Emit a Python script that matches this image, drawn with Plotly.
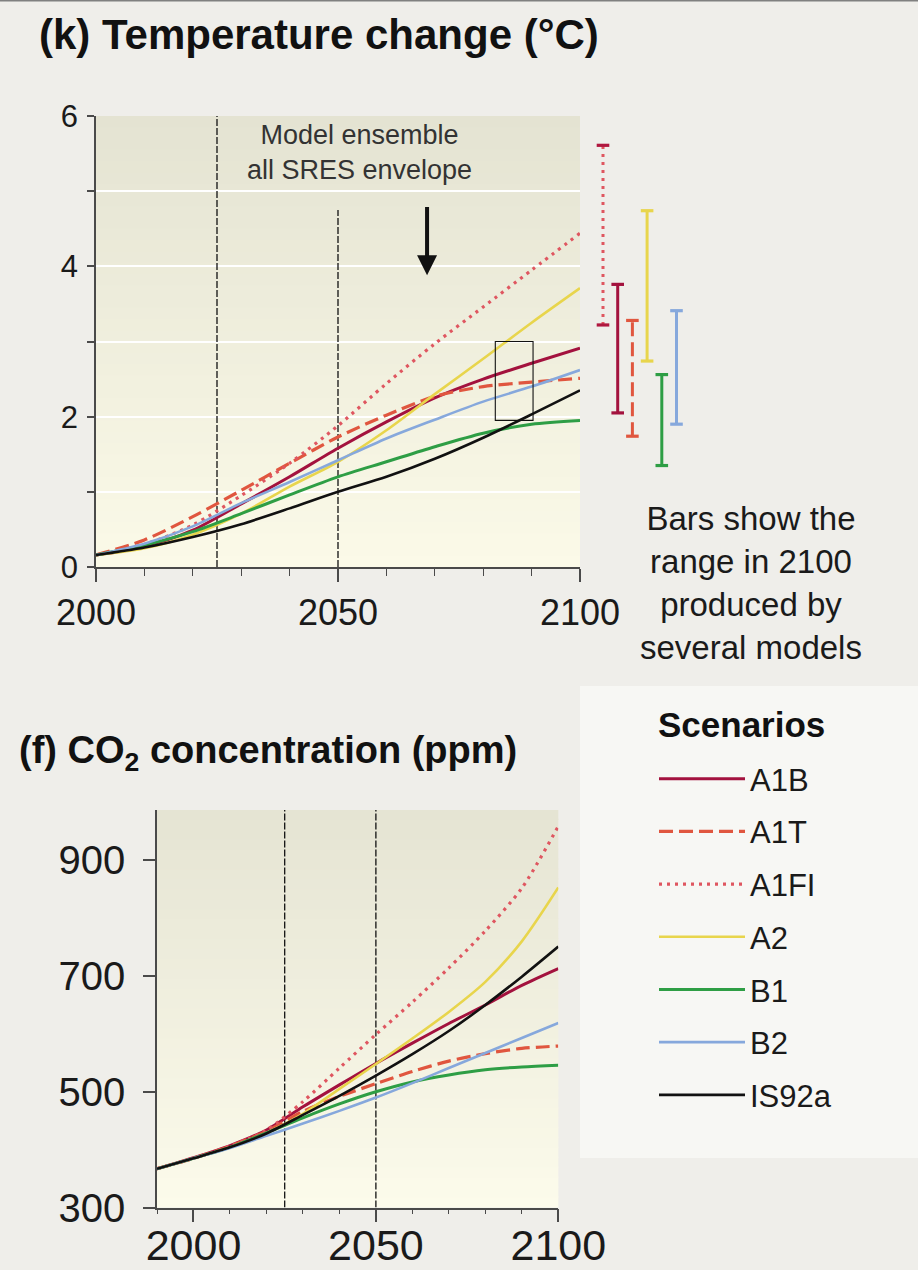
import plotly.graph_objects as go

FONT = "Liberation Sans, Arial, Helvetica, sans-serif"

# ---------------- data ----------------
SCEN = ["A1B", "A1T", "A1FI", "A2", "B1", "B2", "IS92a"]
COLORS = {"A1B": "#a3123e", "A1T": "#e0563f", "A1FI": "#df5660", "A2": "#e8d54c",
          "B1": "#2e9e45", "B2": "#86a8dc", "IS92a": "#111111"}
DASHES = {"A1B": "solid", "A1T": "14px,6px", "A1FI": "3px,5px", "A2": "solid",
          "B1": "solid", "B2": "solid", "IS92a": "solid"}
WIDTHS = {"A1B": 3, "A1T": 3.2, "A1FI": 3.2, "A2": 2.6, "B1": 3, "B2": 2.6, "IS92a": 2.6}

# (k) Temperature change (deg C)
T_YEARS = [2000, 2010, 2020, 2030, 2040, 2050, 2060, 2070, 2080, 2090, 2100]
T_A1B   = [0.16, 0.27, 0.49, 0.84, 1.20, 1.58, 1.93, 2.25, 2.50, 2.71, 2.91]
T_A1T   = [0.16, 0.36, 0.67, 1.02, 1.38, 1.73, 2.02, 2.27, 2.40, 2.46, 2.51]
T_A1FI  = [0.16, 0.30, 0.56, 0.95, 1.38, 1.88, 2.44, 2.97, 3.46, 3.95, 4.44]
T_A2    = [0.16, 0.25, 0.43, 0.71, 1.07, 1.40, 1.82, 2.30, 2.77, 3.25, 3.71]
T_B1    = [0.16, 0.29, 0.47, 0.71, 0.96, 1.20, 1.40, 1.60, 1.78, 1.90, 1.95]
T_B2    = [0.16, 0.31, 0.54, 0.85, 1.13, 1.42, 1.71, 1.96, 2.20, 2.40, 2.62]
T_IS92A = [0.16, 0.26, 0.40, 0.57, 0.78, 1.00, 1.20, 1.44, 1.72, 2.03, 2.35]
TEMP = {"A1B": T_A1B, "A1T": T_A1T, "A1FI": T_A1FI, "A2": T_A2,
        "B1": T_B1, "B2": T_B2, "IS92a": T_IS92A}

# (f) CO2 concentration (ppm)
C_YEARS = [1990, 2000, 2010, 2020, 2030, 2040, 2050, 2060, 2070, 2080, 2090, 2100]
C_A1B   = [367, 386, 407, 434, 474, 512, 549, 584, 618, 650, 684, 713]
C_A1T   = [367, 385, 406, 432, 466, 492, 514, 535, 553, 566, 575, 579]
C_A1FI  = [367, 385, 406, 434, 483, 541, 599, 655, 714, 778, 852, 959]
C_A2    = [367, 385, 404, 429, 462, 505, 548, 592, 638, 690, 760, 853]
C_B1    = [367, 385, 404, 429, 455, 479, 500, 517, 529, 538, 543, 546]
C_B2    = [367, 385, 403, 424, 445, 467, 490, 515, 541, 567, 593, 619]
C_IS92A = [367, 385, 404, 428, 460, 493, 528, 565, 605, 650, 699, 751]
CO2 = {"A1B": C_A1B, "A1T": C_A1T, "A1FI": C_A1FI, "A2": C_A2,
       "B1": C_B1, "B2": C_B2, "IS92a": C_IS92A}

# Ranges in 2100 produced by several models (deg C)
BAR_SCEN = ["A1FI", "A1B", "A1T", "A2", "B1", "B2"]
BAR_LOW  = [3.22, 2.05, 1.74, 2.74, 1.35, 1.90]
BAR_HIGH = [5.61, 3.76, 3.28, 4.74, 2.56, 3.41]

# tick labels
T_XTICKS = [2000, 2050, 2100]
T_YTICKS = [0, 2, 4, 6]
C_XTICKS = [2000, 2050, 2100]
C_YTICKS = [300, 500, 700, 900]

# ---------------- layout geometry (page pixels) ----------------
W, H = 918, 1270
def fx(p):
    return p / W
def fy(p):
    return 1 - p / H

TOP_DX, TOP_DY = [fx(96), fx(580)], [fy(567), fy(116)]
BOT_DX, BOT_DY = [fx(157), fx(558.3)], [fy(1207.5), fy(810)]
BAR_DX = [fx(588.3), fx(691.2)]

AX = "#4a4a4a"
PAGE = "#efeeea"

fig = go.Figure()

for s in SCEN:
    fig.add_trace(go.Scatter(
        x=T_YEARS, y=TEMP[s], mode="lines", name=s, legendgroup=s, showlegend=False,
        line=dict(color=COLORS[s], dash=DASHES[s], width=WIDTHS[s], shape="spline", smoothing=0.8),
        xaxis="x", yaxis="y", hoverinfo="skip"))

for s in SCEN:
    fig.add_trace(go.Scatter(
        x=C_YEARS, y=CO2[s], mode="lines", name=s, legendgroup=s, showlegend=True,
        line=dict(color=COLORS[s], dash=DASHES[s], width=WIDTHS[s], shape="spline", smoothing=0.8),
        xaxis="x2", yaxis="y2", hoverinfo="skip"))

for i, s in enumerate(BAR_SCEN):
    cap_col = "#b0173f" if s == "A1FI" else COLORS[s]
    fig.add_trace(go.Scatter(
        x=[i, i], y=[BAR_LOW[i], BAR_HIGH[i]], mode="lines+markers", legendgroup=s,
        showlegend=False, cliponaxis=False,
        line=dict(color=COLORS[s], dash=DASHES[s], width=3),
        marker=dict(symbol="line-ew", size=9, color=cap_col,
                    line=dict(width=3.2, color=cap_col)),
        xaxis="x3", yaxis="y3", hoverinfo="skip"))

# ---------------- shapes ----------------
shapes = []

def gradient(xref, yref, top_rgb, bot_rgb, n=40):
    out = []
    for i in range(n):
        f = (i + 0.5) / n
        c = [round(bot_rgb[k] + (top_rgb[k] - bot_rgb[k]) * f) for k in range(3)]
        out.append(dict(type="rect", xref=xref, yref=yref, x0=0, x1=1,
                        y0=i / n, y1=min(1, (i + 1) / n + 0.003),
                        fillcolor="rgb(%d,%d,%d)" % tuple(c), line=dict(width=0),
                        layer="below"))
    return out

shapes += gradient("x domain", "y domain", (228, 227, 210), (251, 250, 232))
shapes += gradient("x2 domain", "y2 domain", (229, 228, 211), (252, 251, 235))

# legend panel background
shapes.append(dict(type="rect", xref="paper", yref="paper", x0=fx(580), x1=1,
                   y0=fy(1158), y1=fy(686), fillcolor="#f7f7f4",
                   line=dict(width=0), layer="below"))
# thin frame line at the very top
shapes.append(dict(type="line", xref="paper", yref="paper", x0=0, x1=1, y0=1, y1=1,
                   line=dict(color="#808080", width=3)))

dash_line = dict(color="#111111", width=1.3, dash="7px,2px")
shapes += [
    dict(type="line", xref="x", yref="y", x0=2025, x1=2025, y0=0, y1=6, line=dash_line, layer="between"),
    dict(type="line", xref="x", yref="y", x0=2050, x1=2050, y0=0, y1=4.75, line=dash_line, layer="between"),
    dict(type="line", xref="x2", yref="y2", x0=2025, x1=2025, y0=300, y1=987, line=dash_line, layer="between"),
    dict(type="line", xref="x2", yref="y2", x0=2050, x1=2050, y0=300, y1=987, line=dash_line, layer="between"),
    dict(type="rect", xref="x", yref="y", x0=2082.5, x1=2090.3, y0=1.95, y1=3.0,
         line=dict(color="#111111", width=1.1), fillcolor="rgba(0,0,0,0)", layer="above"),
]

# ---------------- annotations ----------------
annotations = [
    dict(text="<b>(k) Temperature change (°C)</b>", xref="paper", yref="paper",
         x=fx(37), y=fy(35), xanchor="left", yanchor="middle", showarrow=False,
         font=dict(size=42, family=FONT, color="#111111")),
    dict(text="<b>(f) CO<sub>2</sub> concentration (ppm)</b>", xref="paper", yref="paper",
         x=fx(17), y=fy(753), xanchor="left", yanchor="middle", showarrow=False,
         font=dict(size=38, family=FONT, color="#111111")),
    dict(text="Model ensemble<br>all SRES envelope", xref="paper", yref="paper",
         x=fx(359.5), y=fy(152), xanchor="center", yanchor="middle", showarrow=False,
         font=dict(size=27, family=FONT, color="#333333")),
    dict(text="Bars show the<br>range in 2100<br>produced by<br>several models",
         xref="paper", yref="paper", x=fx(751), y=fy(583), xanchor="center",
         yanchor="middle", showarrow=False, font=dict(size=33, family=FONT, color="#1a1a1a")),
    dict(text="<b>Scenarios</b>", xref="paper", yref="paper", x=fx(656), y=fy(724),
         xanchor="left", yanchor="middle", showarrow=False,
         font=dict(size=35, family=FONT, color="#111111")),
    dict(text="", xref="x", yref="y", x=2068.4, y=3.88, axref="x", ayref="y",
         ax=2068.4, ay=4.81, showarrow=True, arrowhead=2, arrowsize=1.0,
         arrowwidth=4, arrowcolor="#111111"),
]

axis_common = dict(showline=True, linecolor=AX, linewidth=1.5, ticks="outside",
                   tickcolor=AX, tickwidth=1.5, zeroline=False, automargin=False)

def tf(size):
    return dict(family=FONT, size=size, color="#1a1a1a")

fig.update_layout(
    width=W, height=H, template="none",
    margin=dict(l=0, r=0, t=0, b=0),
    paper_bgcolor=PAGE, plot_bgcolor="rgba(0,0,0,0)",
    font=dict(family=FONT, color="#1a1a1a"),
    xaxis=dict(domain=TOP_DX, range=[2000, 2100], anchor="y", tickvals=T_XTICKS,
               ticktext=[str(v) for v in T_XTICKS], ticklen=13, showgrid=False,
               minor=dict(dtick=10, tick0=2000, ticks="outside", ticklen=7,
                          tickwidth=1.2, tickcolor=AX, showgrid=False),
               ticklabelstandoff=0, tickfont=tf(36), **axis_common),
    yaxis=dict(domain=TOP_DY, range=[0, 6], anchor="x", tickvals=T_YTICKS,
               ticktext=[str(v) for v in T_YTICKS], ticklen=7, showgrid=True,
               gridcolor="#ffffff", gridwidth=1.5,
               minor=dict(dtick=1, tick0=0, ticks="outside", ticklen=7, tickwidth=1.5,
                          tickcolor=AX, showgrid=True, gridcolor="#ffffff", gridwidth=1.5),
               ticklabelstandoff=3, tickfont=tf(31), **axis_common),
    xaxis2=dict(domain=BOT_DX, range=[1990, 2100], anchor="y2", tickvals=C_XTICKS,
                ticktext=[str(v) for v in C_XTICKS], ticklen=13, showgrid=False,
                minor=dict(dtick=10, tick0=1990, ticks="outside", ticklen=5,
                           tickwidth=1.2, tickcolor=AX, showgrid=False),
                ticklabelstandoff=-14, tickfont=tf(43), **axis_common),
    yaxis2=dict(domain=BOT_DY, range=[300, 987], anchor="x2", tickvals=C_YTICKS,
                ticktext=[str(v) for v in C_YTICKS], ticklen=12, showgrid=False,
                ticklabelstandoff=10, tickfont=tf(40), **axis_common),
    xaxis3=dict(domain=BAR_DX, range=[-1, 6], anchor="y3", visible=False),
    yaxis3=dict(domain=TOP_DY, range=[0, 6], anchor="x3", visible=False),
    shapes=shapes,
    annotations=annotations,
    showlegend=True,
    legend=dict(x=fx(654), y=fy(752), xanchor="left", yanchor="top",
                bgcolor="rgba(0,0,0,0)", traceorder="grouped", tracegroupgap=9.4,
                itemwidth=86, font=dict(size=31, family=FONT, color="#1a1a1a")),
)

fig.write_html(
    "out.html",
    config={"displayModeBar": False},
    post_script="document.body.style.margin='0';document.body.style.background='%s';" % PAGE,
)
